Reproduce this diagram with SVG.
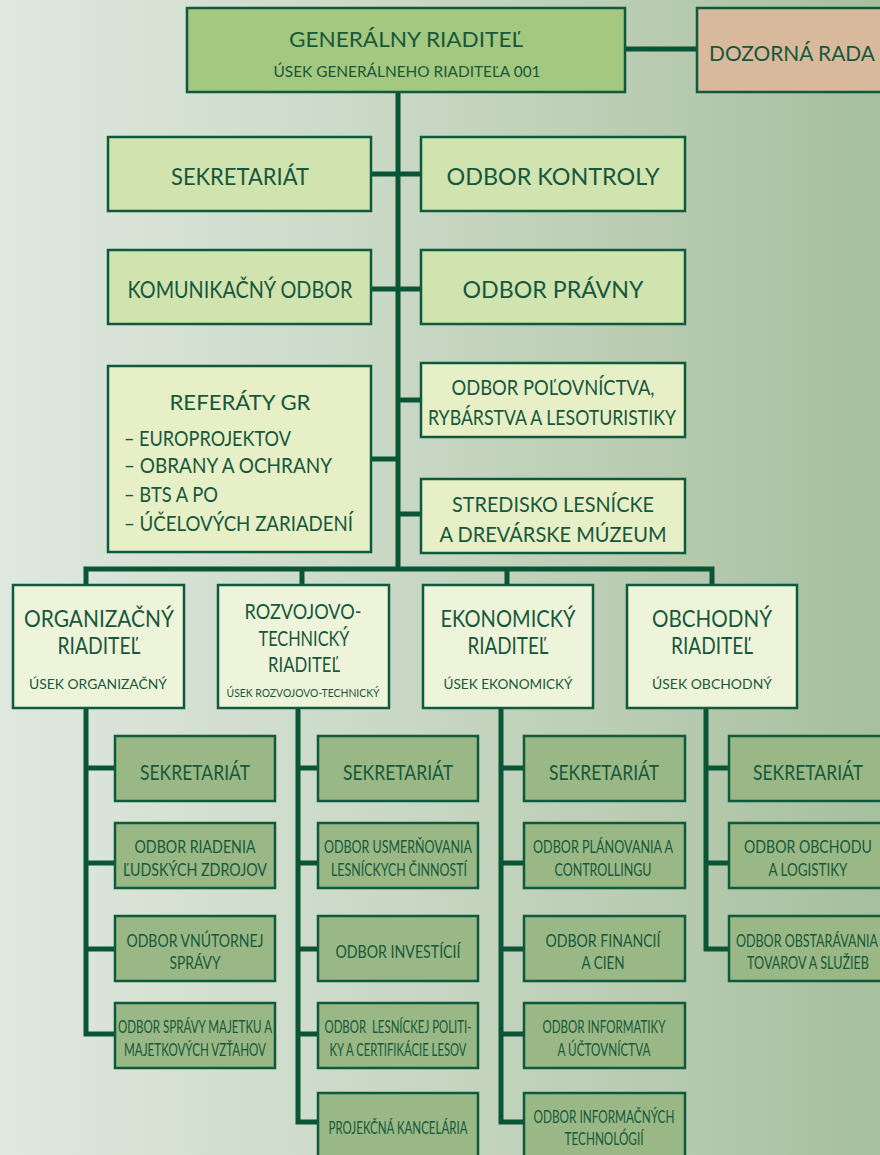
<svg xmlns="http://www.w3.org/2000/svg" width="880" height="1155" viewBox="0 0 880 1155">
<defs>
<linearGradient id="bg" x1="0" y1="0" x2="1" y2="0">
<stop offset="0" stop-color="#dfe8de"/>
<stop offset="0.45" stop-color="#c9d8c5"/>
<stop offset="0.75" stop-color="#b8cbb0"/>
<stop offset="1" stop-color="#a6bf9d"/>
</linearGradient>
<style>
.b{stroke:#0e5a3d;stroke-width:2.5}
.gr{fill:#a4c87f}.dz{fill:#d8b99b}.l1{fill:#d1e3af}.l1b{fill:#e6efc6}.l2{fill:#eef4da}.l3{fill:#99b885}
.c{stroke:#0b5537;stroke-width:5;fill:none}
text{font-family:Lato,"Liberation Sans",sans-serif;fill:#17583c;text-anchor:middle}
.s23{font-size:23px}.s22{font-size:22px}.s21{font-size:21px}.s20{font-size:20px}.s17{font-size:17px}.s15{font-size:15px}.s14{font-size:14px}.s12{font-size:12px}
.st{text-anchor:start}
</style>
</defs>
<rect width="880" height="1155" fill="url(#bg)"/>
<g id="connectors">
<path class="c" d="M625 49H697"/>
<path class="c" d="M398 92V569"/>
<path class="c" d="M371 174H421M371 289H421M371 459H398M398 400H421M398 514H421"/>
<path class="c" d="M86 586V569H712V586M302 569V586M507 569V586"/>
<path class="c" d="M86 708V1034H115M86 768H115M86 863H115M86 949H115"/>
<path class="c" d="M298 708V1122H318M298 768H318M298 863H318M298 949H318M298 1034H318"/>
<path class="c" d="M501 708V1122H524M501 768H524M501 863H524M501 949H524M501 1034H524"/>
<path class="c" d="M706 708V949H729M706 768H729M706 863H729"/>
</g>
<g id="generalny-riaditel">
<rect class="b gr" x="187" y="8" width="438" height="84"/>
<text class="s22" x="406" y="47" textLength="234" lengthAdjust="spacingAndGlyphs">GENERÁLNY RIADITEĽ</text>
<text class="s15" x="407" y="77" textLength="267" lengthAdjust="spacingAndGlyphs">ÚSEK GENERÁLNEHO RIADITEĽA 001</text>
</g>
<g id="dozorna-rada">
<rect class="b dz" x="697" y="8" width="185" height="84"/>
<text class="s22" x="792" y="61" textLength="166" lengthAdjust="spacingAndGlyphs">DOZORNÁ RADA</text>
</g>
<g id="sekretariat-gr">
<rect class="b l1" x="108" y="137" width="263" height="74"/>
<text class="s23" x="240" y="185" textLength="138" lengthAdjust="spacingAndGlyphs">SEKRETARIÁT</text>
</g>
<g id="odbor-kontroly">
<rect class="b l1" x="421" y="137" width="264" height="74"/>
<text class="s23" x="553" y="185" textLength="213" lengthAdjust="spacingAndGlyphs">ODBOR KONTROLY</text>
</g>
<g id="komunikacny-odbor">
<rect class="b l1" x="108" y="250" width="263" height="74"/>
<text class="s23" x="240" y="298" textLength="225" lengthAdjust="spacingAndGlyphs">KOMUNIKAČNÝ ODBOR</text>
</g>
<g id="odbor-pravny">
<rect class="b l1" x="421" y="250" width="264" height="74"/>
<text class="s23" x="553" y="298" textLength="181" lengthAdjust="spacingAndGlyphs">ODBOR PRÁVNY</text>
</g>
<g id="referaty-gr">
<rect class="b l1b" x="108" y="366" width="263" height="186"/>
<text class="s22" x="240" y="410" textLength="141" lengthAdjust="spacingAndGlyphs">REFERÁTY GR</text>
<text class="s21 st" x="124" y="446" textLength="167" lengthAdjust="spacingAndGlyphs">– EUROPROJEKTOV</text>
<text class="s21 st" x="124" y="473" textLength="208" lengthAdjust="spacingAndGlyphs">– OBRANY A OCHRANY</text>
<text class="s21 st" x="124" y="502" textLength="94" lengthAdjust="spacingAndGlyphs">– BTS A PO</text>
<text class="s21 st" x="124" y="531" textLength="229" lengthAdjust="spacingAndGlyphs">– ÚČELOVÝCH ZARIADENÍ</text>
</g>
<g id="odbor-polovnictva">
<rect class="b l1b" x="421" y="363" width="264" height="74"/>
<text class="s21" x="553" y="395" textLength="203" lengthAdjust="spacingAndGlyphs">ODBOR POĽOVNÍCTVA,</text>
<text class="s21" x="552" y="425" textLength="248" lengthAdjust="spacingAndGlyphs">RYBÁRSTVA A LESOTURISTIKY</text>
</g>
<g id="stredisko">
<rect class="b l1b" x="421" y="479" width="264" height="74"/>
<text class="s21" x="553" y="512" textLength="202" lengthAdjust="spacingAndGlyphs">STREDISKO LESNÍCKE</text>
<text class="s21" x="553" y="542" textLength="227" lengthAdjust="spacingAndGlyphs">A DREVÁRSKE MÚZEUM</text>
</g>
<g id="organizacny-riaditel">
<rect class="b l2" x="13" y="585" width="171" height="123"/>
<text class="s23" x="99" y="627" textLength="150" lengthAdjust="spacingAndGlyphs">ORGANIZAČNÝ</text>
<text class="s23" x="99" y="654" textLength="83" lengthAdjust="spacingAndGlyphs">RIADITEĽ</text>
<text class="s14" x="98" y="689" textLength="138" lengthAdjust="spacingAndGlyphs">ÚSEK ORGANIZAČNÝ</text>
</g>
<g id="rozvojovo-technicky-riaditel">
<rect class="b l2" x="218" y="585" width="171" height="123"/>
<text class="s21" x="303" y="619" textLength="117" lengthAdjust="spacingAndGlyphs">ROZVOJOVO-</text>
<text class="s21" x="304" y="646" textLength="91" lengthAdjust="spacingAndGlyphs">TECHNICKÝ</text>
<text class="s21" x="304" y="672" textLength="72" lengthAdjust="spacingAndGlyphs">RIADITEĽ</text>
<text class="s12" x="303" y="697" textLength="153" lengthAdjust="spacingAndGlyphs">ÚSEK ROZVOJOVO-TECHNICKÝ</text>
</g>
<g id="ekonomicky-riaditel">
<rect class="b l2" x="423" y="585" width="170" height="123"/>
<text class="s23" x="508" y="627" textLength="135" lengthAdjust="spacingAndGlyphs">EKONOMICKÝ</text>
<text class="s23" x="508" y="654" textLength="81" lengthAdjust="spacingAndGlyphs">RIADITEĽ</text>
<text class="s14" x="508" y="689" textLength="129" lengthAdjust="spacingAndGlyphs">ÚSEK EKONOMICKÝ</text>
</g>
<g id="obchodny-riaditel">
<rect class="b l2" x="627" y="585" width="170" height="123"/>
<text class="s23" x="712" y="627" textLength="120" lengthAdjust="spacingAndGlyphs">OBCHODNÝ</text>
<text class="s23" x="712" y="654" textLength="82" lengthAdjust="spacingAndGlyphs">RIADITEĽ</text>
<text class="s14" x="712" y="689" textLength="120" lengthAdjust="spacingAndGlyphs">ÚSEK OBCHODNÝ</text>
</g>
<g id="org-sekretariat">
<rect class="b l3" x="115" y="736" width="160" height="65"/>
<text class="s21" x="195" y="780" textLength="110" lengthAdjust="spacingAndGlyphs">SEKRETARIÁT</text>
</g>
<g id="org-ludske-zdroje">
<rect class="b l3" x="115" y="823" width="160" height="65"/>
<text class="s17" x="195" y="853" textLength="121" lengthAdjust="spacingAndGlyphs">ODBOR RIADENIA</text>
<text class="s17" x="195" y="876" textLength="144" lengthAdjust="spacingAndGlyphs">ĽUDSKÝCH ZDROJOV</text>
</g>
<g id="org-vnutorna-sprava">
<rect class="b l3" x="115" y="916" width="160" height="65"/>
<text class="s17" x="195" y="947" textLength="137" lengthAdjust="spacingAndGlyphs">ODBOR VNÚTORNEJ</text>
<text class="s17" x="195" y="969" textLength="51" lengthAdjust="spacingAndGlyphs">SPRÁVY</text>
</g>
<g id="org-sprava-majetku">
<rect class="b l3" x="115" y="1003" width="160" height="65"/>
<text class="s17" x="195" y="1033" textLength="154" lengthAdjust="spacingAndGlyphs">ODBOR SPRÁVY MAJETKU A</text>
<text class="s17" x="195" y="1056" textLength="142" lengthAdjust="spacingAndGlyphs">MAJETKOVÝCH VZŤAHOV</text>
</g>
<g id="rt-sekretariat">
<rect class="b l3" x="318" y="736" width="160" height="65"/>
<text class="s21" x="398" y="780" textLength="110" lengthAdjust="spacingAndGlyphs">SEKRETARIÁT</text>
</g>
<g id="rt-usmernovanie">
<rect class="b l3" x="318" y="823" width="160" height="65"/>
<text class="s17" x="398" y="853" textLength="148" lengthAdjust="spacingAndGlyphs">ODBOR USMERŇOVANIA</text>
<text class="s17" x="399" y="876" textLength="136" lengthAdjust="spacingAndGlyphs">LESNÍCKYCH ČINNOSTÍ</text>
</g>
<g id="rt-investicie">
<rect class="b l3" x="318" y="916" width="160" height="65"/>
<text class="s17" x="398" y="958" textLength="125" lengthAdjust="spacingAndGlyphs">ODBOR INVESTÍCIÍ</text>
</g>
<g id="rt-lesnicka-politika">
<rect class="b l3" x="318" y="1003" width="160" height="65"/>
<text class="s17" x="398" y="1033" textLength="147" lengthAdjust="spacingAndGlyphs">ODBOR&#160; LESNÍCKEJ POLITI-</text>
<text class="s17" x="398" y="1056" textLength="137" lengthAdjust="spacingAndGlyphs">KY A CERTIFIKÁCIE LESOV</text>
</g>
<g id="rt-projekcna-kancelaria">
<rect class="b l3" x="318" y="1093" width="160" height="70"/>
<text class="s17" x="398" y="1134" textLength="139" lengthAdjust="spacingAndGlyphs">PROJEKČNÁ KANCELÁRIA</text>
</g>
<g id="ek-sekretariat">
<rect class="b l3" x="524" y="736" width="161" height="65"/>
<text class="s21" x="604" y="780" textLength="110" lengthAdjust="spacingAndGlyphs">SEKRETARIÁT</text>
</g>
<g id="ek-planovanie">
<rect class="b l3" x="524" y="823" width="161" height="65"/>
<text class="s17" x="603" y="853" textLength="140" lengthAdjust="spacingAndGlyphs">ODBOR PLÁNOVANIA A</text>
<text class="s17" x="603" y="876" textLength="97" lengthAdjust="spacingAndGlyphs">CONTROLLINGU</text>
</g>
<g id="ek-financie">
<rect class="b l3" x="524" y="916" width="161" height="65"/>
<text class="s17" x="603" y="947" textLength="115" lengthAdjust="spacingAndGlyphs">ODBOR FINANCIÍ</text>
<text class="s17" x="603" y="969" textLength="43" lengthAdjust="spacingAndGlyphs">A CIEN</text>
</g>
<g id="ek-informatika">
<rect class="b l3" x="524" y="1003" width="161" height="65"/>
<text class="s17" x="604" y="1033" textLength="123" lengthAdjust="spacingAndGlyphs">ODBOR INFORMATIKY</text>
<text class="s17" x="604" y="1056" textLength="93" lengthAdjust="spacingAndGlyphs">A ÚČTOVNÍCTVA</text>
</g>
<g id="ek-informacne-technologie">
<rect class="b l3" x="524" y="1093" width="161" height="70"/>
<text class="s17" x="604" y="1123" textLength="141" lengthAdjust="spacingAndGlyphs">ODBOR INFORMAČNÝCH</text>
<text class="s17" x="604" y="1145" textLength="79" lengthAdjust="spacingAndGlyphs">TECHNOLÓGIÍ</text>
</g>
<g id="ob-sekretariat">
<rect class="b l3" x="729" y="736" width="153" height="65"/>
<text class="s21" x="808" y="780" textLength="110" lengthAdjust="spacingAndGlyphs">SEKRETARIÁT</text>
</g>
<g id="ob-obchod-logistika">
<rect class="b l3" x="729" y="823" width="153" height="65"/>
<text class="s17" x="808" y="853" textLength="128" lengthAdjust="spacingAndGlyphs">ODBOR OBCHODU</text>
<text class="s17" x="808" y="876" textLength="79" lengthAdjust="spacingAndGlyphs">A LOGISTIKY</text>
</g>
<g id="ob-obstaravanie">
<rect class="b l3" x="729" y="916" width="153" height="65"/>
<text class="s17" x="807" y="947" textLength="142" lengthAdjust="spacingAndGlyphs">ODBOR OBSTARÁVANIA</text>
<text class="s17" x="808" y="969" textLength="122" lengthAdjust="spacingAndGlyphs">TOVAROV A SLUŽIEB</text>
</g>
</svg>
